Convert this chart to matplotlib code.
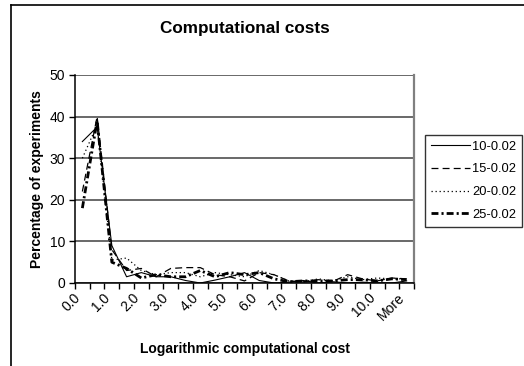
import numpy as np
import matplotlib
matplotlib.use("Agg")
import matplotlib.pyplot as plt
from matplotlib.lines import Line2D

plt.rcParams['font.family'] = ['Liberation Sans', 'DejaVu Sans']
plt.rcParams['lines.scale_dashes'] = False

# categories (bins of the log cost), labels shown on every other bin
categories = ['0.0', '0.5', '1.0', '1.5', '2.0', '2.5', '3.0', '3.5', '4.0', '4.5', '5.0', '5.5',
              '6.0', '6.5', '7.0', '7.5', '8.0', '8.5', '9.0', '9.5', '10.0', '10.5', 'More']

s10 = [34, 37.5, 9, 1.5, 2.5, 1.5, 1.5, 0.6, 0, 0.7, 1.5, 2.5, 0.6, 0, 0.2, 0.6, 0, 0.3, 0, 0.2, 0, 0, 0.5]
s15 = [22, 40, 8, 3, 3.5, 1.5, 3.5, 3.7, 3.7, 2, 1.5, 0.5, 2.5, 2, 0.5, 0.3, 0.8, 0.4, 2, 1, 0.5, 1.2, 1]
s20 = [30, 38, 5.5, 6, 3, 2, 2.5, 2.5, 1.5, 2.5, 2, 1.5, 3, 2, 0.5, 0.2, 1, 0.5, 1.5, 0.8, 1.2, 1, 1]
s25 = [18, 39, 5, 3.5, 1.2, 2, 1.5, 1.5, 3, 1.5, 2.5, 2, 2.5, 1, 0.3, 0.5, 0.5, 0.5, 0.8, 0.8, 0.5, 1, 0.8]

series_names = ['10-0.02', '15-0.02', '20-0.02', '25-0.02']

W, H = 524, 366
fig = plt.figure(figsize=(W / 100, H / 100), dpi=100)

# chart area border (clipped by the image at right/bottom)
fig.add_artist(Line2D([11 / W, 11 / W], [0, 1 - 5 / H], color='black', lw=1.2, transform=fig.transFigure))
fig.add_artist(Line2D([11 / W, 1], [1 - 5 / H, 1 - 5 / H], color='black', lw=1.2, transform=fig.transFigure))

ax = fig.add_axes([75 / W, 1 - 283 / H, (414 - 75) / W, (283 - 75) / H])

x = np.arange(len(categories)) + 0.5
styles = [
    dict(color='black', lw=0.8, linestyle='-'),
    dict(color='black', lw=0.9, linestyle=(0, (5, 3))),
    dict(color='black', lw=0.9, linestyle=(0, (0.9, 2))),
    dict(color='black', lw=2.0, linestyle=(0, (5, 2.2, 1.5, 2.2))),
]
for vals, name, st in zip([s10, s15, s20, s25], series_names, styles):
    ax.plot(x, vals, label=name, **st, zorder=3)

ax.set_xlim(0, len(categories))
ax.set_ylim(0, 50)
ax.set_yticks(range(0, 51, 10))
ax.yaxis.grid(True, color='#404040', lw=1.1)
ax.set_axisbelow(True)

# major ticks at bin edges, labels (invisible minor ticks) a bit left of bin centres
ax.set_xticks(np.arange(len(categories) + 1))
ax.set_xticklabels([])
ax.set_xticks(x[::2] - 0.28, minor=True)
ax.set_xticklabels(categories[::2], minor=True, rotation=45, ha='right', va='center',
                   rotation_mode='anchor', fontsize=10)
ax.tick_params(axis='x', which='major', length=4, width=1, direction='out')
ax.tick_params(axis='x', which='minor', length=0, pad=9)
ax.tick_params(axis='y', length=4, width=1, labelsize=10, pad=3)

for s in ['left', 'bottom']:
    ax.spines[s].set_color('black')
    ax.spines[s].set_linewidth(1.1)
ax.spines['top'].set_visible(False)
ax.spines['right'].set_color('#808080')
ax.spines['right'].set_linewidth(1.6)

ax.set_title('Computational costs', fontsize=12.3, fontweight='bold', pad=30)
ax.set_ylabel('Percentage of experiments', fontsize=10, fontweight='bold', labelpad=4)
ax.set_xlabel('Logarithmic computational cost', fontsize=10, fontweight='bold', labelpad=14)

leg = fig.legend(loc='upper left', bbox_to_anchor=(425 / W, 1 - 135 / H), fontsize=9.3,
                 frameon=True, fancybox=False, edgecolor='black', handlelength=3.0,
                 handletextpad=0.2, labelspacing=0.82, borderpad=0.45, borderaxespad=0)
leg.get_frame().set_linewidth(1.0)

fig.savefig('out.png', dpi=100)
